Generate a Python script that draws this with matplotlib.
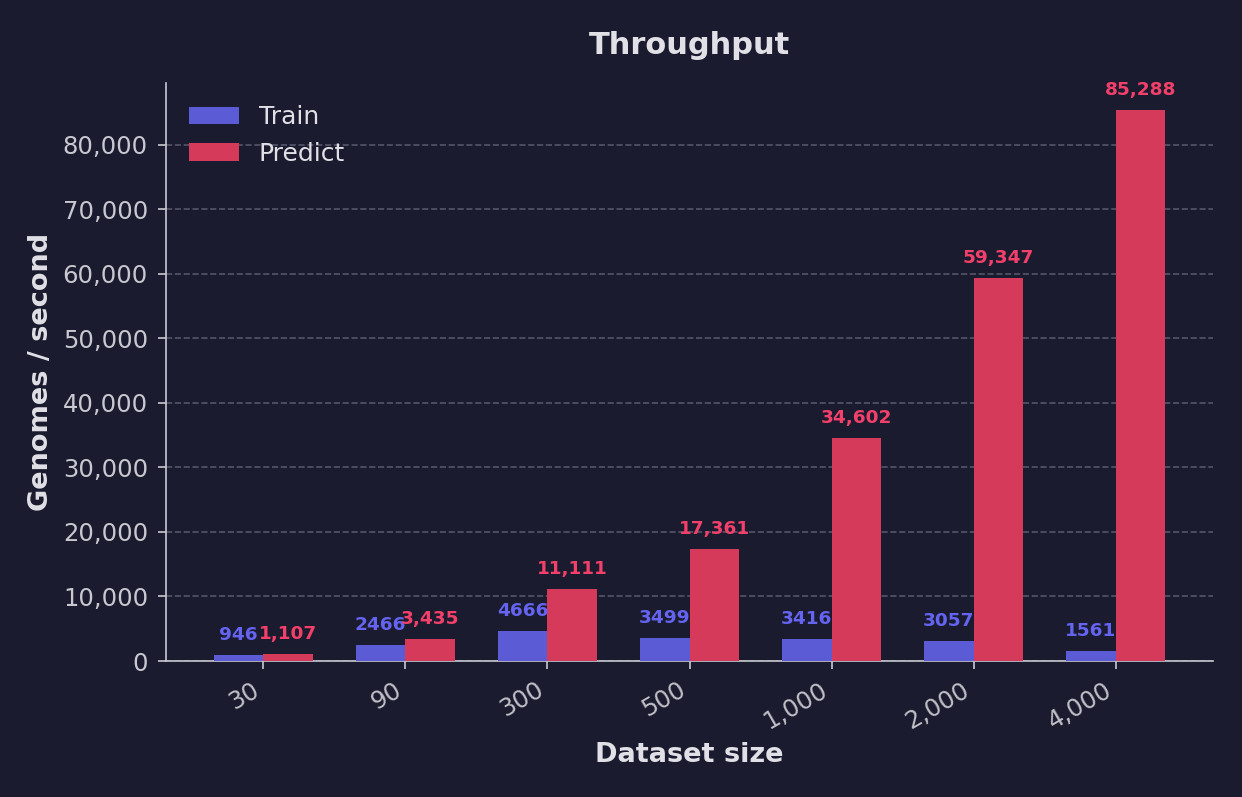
import matplotlib
matplotlib.use("Agg")
import matplotlib.pyplot as plt
import numpy as np

categories = ["30", "90", "300", "500", "1,000", "2,000", "4,000"]
train = [946, 2466, 4666, 3499, 3416, 3057, 1561]
predict = [1107, 3435, 11111, 17361, 34602, 59347, 85288]

BG = "#1b1b2f"
TRAIN_C = "#5b5bd6"
PRED_C = "#d63a5a"
TRAIN_T = "#6464f0"
PRED_T = "#f2406a"
TXT = "#e0e0e6"

fig = plt.figure(figsize=(12.42, 7.97), dpi=100, facecolor=BG)
ax = fig.add_axes([0.1337, 0.1706, 0.843, 0.7253])
ax.set_facecolor(BG)

x = np.arange(len(categories))
w = 0.35
ax.bar(x - w/2, train, w, color=TRAIN_C, label="Train", zorder=3)
ax.bar(x + w/2, predict, w, color=PRED_C, label="Predict", zorder=3)

for xi, v in zip(x, train):
    ax.annotate(f"{v}", (xi - w/2, v), xytext=(0, 8), textcoords="offset points",
                ha="center", va="bottom", color=TRAIN_T, fontsize=13.3, fontweight="bold")
for xi, v in zip(x, predict):
    ax.annotate(f"{v:,}", (xi + w/2, v), xytext=(0, 8), textcoords="offset points",
                ha="center", va="bottom", color=PRED_T, fontsize=13.3, fontweight="bold")

ax.set_xticks(x)
ax.set_xticklabels(categories, rotation=30, ha="right")
ax.yaxis.set_major_formatter(matplotlib.ticker.FuncFormatter(lambda v, p: f"{int(v):,}"))
ax.tick_params(colors="#c8c8d0", labelsize=17.5, length=6, width=1.2)
ax.tick_params(axis="y", pad=7)
ax.tick_params(axis="x", pad=6)
for lbl in ax.get_xticklabels():
    lbl.set_color("#c0c0c8")
ax.grid(axis="y", linestyle="--", color="#55556a", linewidth=1.2, zorder=0)
for s in ["top", "right"]:
    ax.spines[s].set_visible(False)
for s in ["left", "bottom"]:
    ax.spines[s].set_color("#c8c8d0")
    ax.spines[s].set_linewidth(1.2)

ax.set_title("Throughput", color=TXT, fontsize=22, fontweight="bold", pad=21)
ax.set_xlabel("Dataset size", color=TXT, fontsize=19.5, fontweight="bold", labelpad=6)
ax.set_ylabel("Genomes / second", color=TXT, fontsize=19.5, fontweight="bold", labelpad=6)

leg = ax.legend(loc="upper left", frameon=False, fontsize=18, borderaxespad=0.5)
for t in leg.get_texts():
    t.set_color(TXT)

fig.savefig("out.png", dpi=100, facecolor=BG)
